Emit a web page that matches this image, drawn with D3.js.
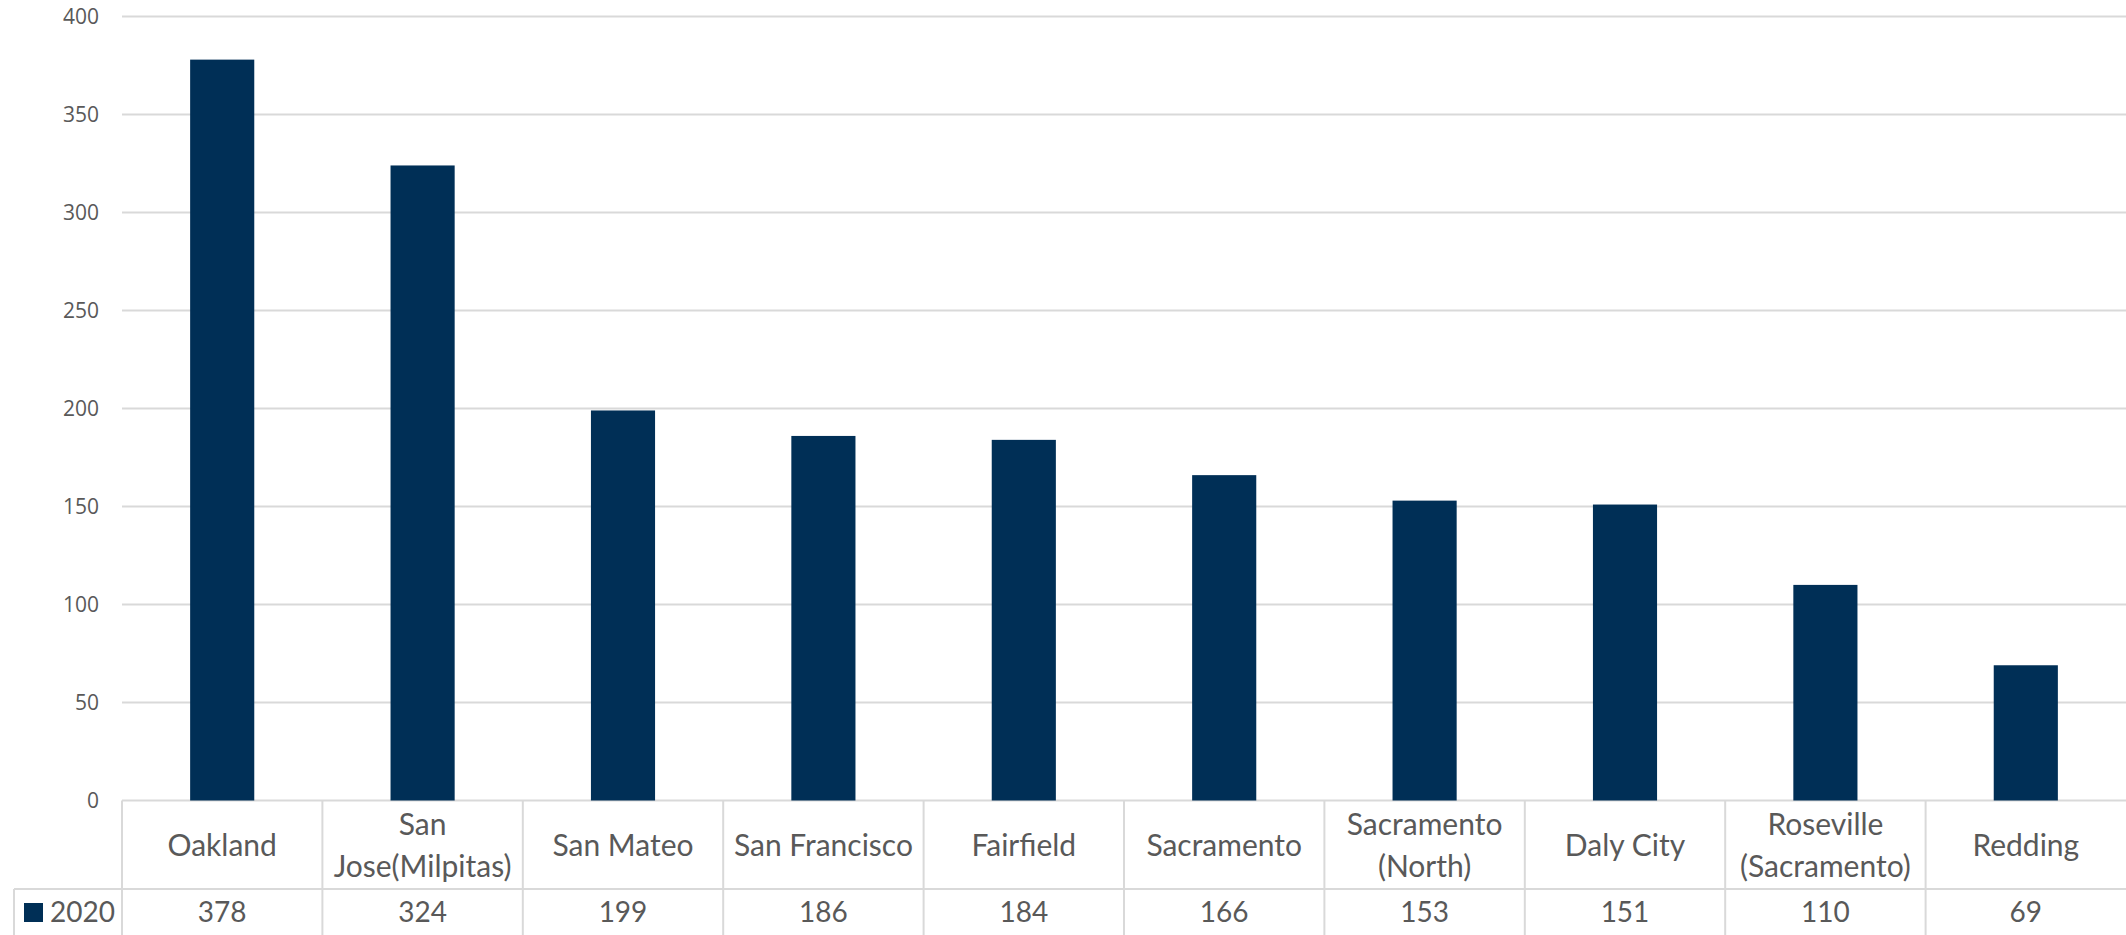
<!DOCTYPE html>
<html><head><meta charset="utf-8">
<script src="https://cdn.jsdelivr.net/npm/d3@7"></script>
<style>html,body{margin:0;padding:0;background:#fff;overflow:hidden}</style>
</head><body>
<svg id="chart" width="2126" height="935"></svg>
<script>
const categories = ["Oakland", "San Jose(Milpitas)", "San Mateo", "San Francisco", "Fairfield", "Sacramento", "Sacramento (North)", "Daly City", "Roseville (Sacramento)", "Redding"];
const categoryLines = [["Oakland"], ["San", "Jose(Milpitas)"], ["San Mateo"], ["San Francisco"], ["Fairfield"], ["Sacramento"], ["Sacramento", "(North)"], ["Daly City"], ["Roseville", "(Sacramento)"], ["Redding"]];
const values2020 = [378, 324, 199, 186, 184, 166, 153, 151, 110, 69];
const seriesName = "2020";
const yTicks = [0, 50, 100, 150, 200, 250, 300, 350, 400];

const W = 2126, H = 935;
const plotLeft = 122, plotRight = 2126, plotTop = 16.5, zeroY = 800.5;
const rowSplit = 889, legendLeft = 14;
const gridColor = "#d9d9d9", barColor = "#002f56", textColor = "#595959";

const svg = d3.select("#chart");
const x = d3.scaleBand().domain(categories).range([plotLeft, plotRight]).paddingInner(0).paddingOuter(0);
const y = d3.scaleLinear().domain([0, 400]).range([zeroY, plotTop]);

// gridlines
svg.append("g").selectAll("line").data(yTicks).join("line")
  .attr("x1", plotLeft).attr("x2", plotRight)
  .attr("y1", d => y(d)).attr("y2", d => y(d))
  .attr("stroke", gridColor).attr("stroke-width", 2);

// y axis labels
const yAxis = d3.axisLeft(y).tickValues(yTicks).tickSize(0).tickPadding(0);
const ga = svg.append("g").attr("transform", `translate(${plotLeft - 23},0)`).call(yAxis);
ga.select(".domain").remove();
ga.selectAll("text").attr("font-family", "'Open Sans', sans-serif").attr("font-size", 21).attr("fill", textColor);

// bars
const bw = x.bandwidth() * 0.32;
svg.append("g").selectAll("rect").data(values2020).join("rect")
  .attr("x", (d, i) => x(categories[i]) + (x.bandwidth() - bw) / 2)
  .attr("width", bw)
  .attr("y", d => y(d))
  .attr("height", d => y(0) - y(d))
  .attr("fill", barColor);

// table lines
const t = svg.append("g").attr("stroke", gridColor).attr("stroke-width", 2);
t.append("line").attr("x1", legendLeft).attr("x2", plotRight).attr("y1", rowSplit).attr("y2", rowSplit);
t.append("line").attr("x1", plotLeft).attr("x2", plotLeft).attr("y1", zeroY).attr("y2", H);
t.append("line").attr("x1", legendLeft).attr("x2", legendLeft).attr("y1", rowSplit).attr("y2", H);
t.selectAll("line.div").data(categories.slice(1)).join("line").attr("class", "div")
  .attr("x1", d => x(d)).attr("x2", d => x(d)).attr("y1", zeroY).attr("y2", H);

// category labels
const catMid = (zeroY + rowSplit) / 2;
const lh = 42;
const cg = svg.append("g").attr("font-family", "Lato, sans-serif").attr("font-size", 30).attr("fill", textColor).attr("text-anchor", "middle");
categoryLines.forEach((lines, i) => {
  const cx = x(categories[i]) + x.bandwidth() / 2;
  const txt = cg.append("text").attr("x", cx);
  lines.forEach((l, j) => {
    txt.append("tspan").attr("x", cx)
      .attr("y", catMid + (j - (lines.length - 1) / 2) * lh)
      .attr("dy", "0.36em").text(l);
  });
});

// values row
const valMid = 912;
svg.append("g").selectAll("text").data(values2020).join("text")
  .attr("x", (d, i) => x(categories[i]) + x.bandwidth() / 2)
  .attr("y", valMid).attr("dy", "0.36em")
  .attr("text-anchor", "middle")
  .attr("font-family", "Lato, sans-serif").attr("font-size", 28).attr("fill", textColor)
  .text(d => d);

// legend key
svg.append("rect").attr("x", 24).attr("y", 903).attr("width", 19).attr("height", 19).attr("fill", barColor);
svg.append("text").attr("x", 50).attr("y", valMid).attr("dy", "0.36em")
  .attr("font-family", "Lato, sans-serif").attr("font-size", 28).attr("fill", textColor).text(seriesName);
</script>
</body></html>
